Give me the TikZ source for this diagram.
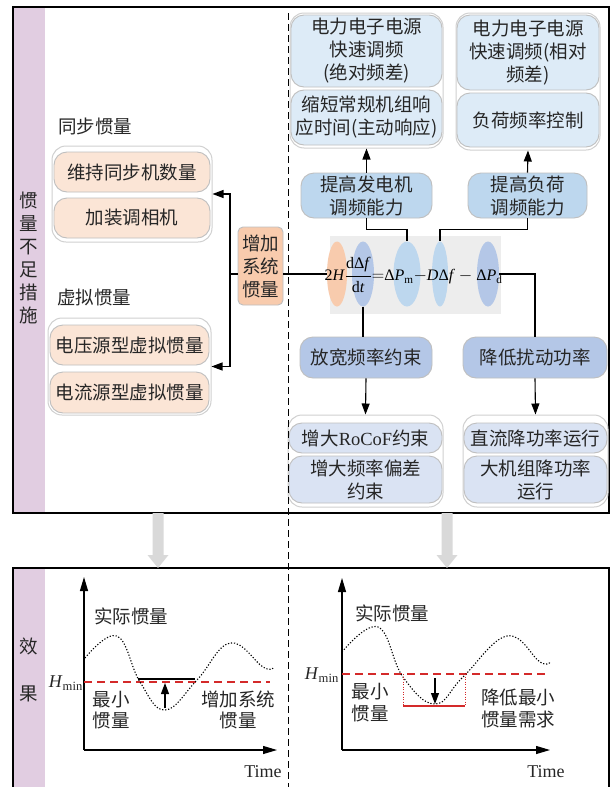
\documentclass[tikz,border=0pt]{standalone}
\usepackage{fontspec}
\usepackage{amsmath}
\setmainfont{Liberation Serif}
\newfontfamily\cn{Noto Sans CJK SC}
\usetikzlibrary{shapes.geometric,arrows.meta}
\definecolor{peachL}{HTML}{FBE5D6}
\definecolor{peachD}{HTML}{F8CBAD}
\definecolor{blueL}{HTML}{DDEBF7}
\definecolor{blueM}{HTML}{BDD7EE}
\definecolor{violet}{HTML}{B4C7E7}
\definecolor{lav}{HTML}{DAE3F3}
\definecolor{eqbg}{HTML}{EDEDED}
\definecolor{pinkstrip}{HTML}{E1CDE1}
\definecolor{boxgray}{HTML}{BFBFBF}
\definecolor{grpgray}{HTML}{D0D0D0}
\definecolor{arrgray}{HTML}{D9D9D9}
\definecolor{hred}{HTML}{D42A2A}
\definecolor{txt}{HTML}{262626}
\begin{document}
\begin{tikzpicture}[x=1pt,y=-1pt,
 cnf/.style={font=\cn\fontsize{18.5}{23}\selectfont},
 bx/.style={cnf, draw=boxgray, line width=0.9pt, rounded corners=13pt, inner sep=0pt, align=center, text=txt},
 grp/.style={draw=grpgray, line width=1pt, rounded corners=14pt, fill=white, inner sep=0pt},
 ell/.style={ellipse, inner sep=0pt, draw=none},
 arr/.style={-{Triangle[length=11pt,width=8pt]}, line width=1.1pt},
 con/.style={line width=1.1pt},
 lbl/.style={cnf, align=center, inner sep=0pt, text=txt},
 lat/.style={font=\fontsize{18}{20}\selectfont, inner sep=1pt, text=txt},
 curve/.style={line width=1.1pt, dash pattern=on 1.2pt off 1.8pt},
 axis/.style={-{Triangle[length=14pt,width=8pt]}, line width=1.1pt},
]
\useasboundingbox (0,0) rectangle (611,787);
\fill[white] (0,0) rectangle (611,787);
% frames
\fill[pinkstrip] (13,7) rectangle (45,513);
\draw[line width=1.2pt] (13,7) rectangle (609,513);
\fill[pinkstrip] (13,568) rectangle (45,787);
\draw[line width=1.2pt] (13,787) -- (13,568) -- (609,568) -- (609,787);
\node[lbl, font=\cn\fontsize{18.5}{23}\selectfont] (lab1) at (29,258) {惯\\量\\不\\足\\措\\施};
\node[lbl, font=\cn\fontsize{18.5}{47}\selectfont] (lab2) at (29,670) {效\\果};
% gray arrows
\fill[arrgray] (152.5,513) -- (163.5,513) -- (163.5,555) -- (168.5,555) -- (158,568) -- (147.5,555) -- (152.5,555) -- cycle;
\fill[arrgray] (441.5,513) -- (452.5,513) -- (452.5,555) -- (457.5,555) -- (447,568) -- (436.5,555) -- (441.5,555) -- cycle;
% left side
\node[lbl] (tsync) at (95,126) {同步惯量};
\node[grp, minimum width=160pt, minimum height=96pt] (g1) at (132,194) {};
\node[bx, fill=peachL, minimum width=156pt, minimum height=40pt] (b11) at (132,172) {维持同步机数量};
\node[bx, fill=peachL, minimum width=156pt, minimum height=40pt] (b12) at (132,218) {加装调相机};
\node[lbl] (tvirt) at (94,297) {虚拟惯量};
\node[grp, minimum width=163pt, minimum height=97pt] (g2) at (129.5,366.5) {};
\node[bx, fill=peachL, minimum width=159pt, minimum height=40pt] (b21) at (129.5,345) {电压源型虚拟惯量};
\node[bx, fill=peachL, minimum width=159pt, minimum height=41pt] (b22) at (129.5,392.5) {电流源型虚拟惯量};
\node[bx, fill=peachD, rounded corners=5pt, minimum width=45pt, minimum height=78pt] (inc) at (260.5,266) {增加\\系统\\惯量};
% right top
\node[grp, minimum width=153pt, minimum height=135pt] (G1) at (366.5,80.5) {};
\node[bx, fill=blueL, minimum width=151pt, minimum height=72pt] (r11) at (366.5,51) {电力电子电源\\快速调频\\(绝对频差)};
\node[bx, fill=blueL, minimum width=151pt, minimum height=55pt] (r12) at (366.5,117.5) {缩短常规机组响\\应时间(主动响应)};
\node[grp, minimum width=144pt, minimum height=137pt] (G2) at (528,81.5) {};
\node[bx, fill=blueL, minimum width=142pt, minimum height=75pt] (r21) at (528,52.5) {电力电子电源\\快速调频(相对\\频差)};
\node[bx, fill=blueL, minimum width=142pt, minimum height=54pt] (r22) at (528,120) {负荷频率控制};
\node[bx, fill=blueM, minimum width=131pt, minimum height=45pt] (gen) at (366.5,195.5) {提高发电机\\调频能力};
\node[bx, fill=blueM, minimum width=119pt, minimum height=45pt] (load) at (527.5,195.5) {提高负荷\\调频能力};
% equation
\fill[eqbg] (330,236) rectangle (501,314);
\node[ell, fill=peachD, minimum width=20pt, minimum height=65pt] (e1) at (337,274) {};
\node[ell, fill=violet, minimum width=22pt, minimum height=65pt] (e2) at (363,274) {};
\node[ell, fill=blueM, minimum width=27pt, minimum height=65pt] (e3) at (407,274) {};
\node[ell, fill=blueM, minimum width=16pt, minimum height=65pt] (e4) at (440,274) {};
\node[ell, fill=violet, minimum width=22pt, minimum height=65pt] (e5) at (488,274) {};
\node[inner sep=0pt, font=\fontsize{16}{19}\selectfont] (eq) at (413.5,275) {$\text{2\textit{H}}\dfrac{\text{dΔ\textit{f}}}{\text{d\textit{t}}}{=}\text{Δ\textit{P}}_{\text{m}}{-}\text{\textit{D}Δ\textit{f}}-\text{Δ\textit{P}}_{\text{d}}$};
% right lower
\node[bx, fill=violet, minimum width=132pt, minimum height=41pt] (relax) at (366,357.5) {放宽频率约束};
\node[bx, fill=violet, minimum width=144pt, minimum height=41pt] (reduce) at (535,357.5) {降低扰动功率};
\node[grp, minimum width=155pt, minimum height=92pt] (G3) at (365.5,461) {};
\node[bx, fill=lav, minimum width=153pt, minimum height=30pt] (r31) at (365.5,438) {增大{\rmfamily RoCoF}约束};
\node[bx, fill=lav, minimum width=153pt, minimum height=47pt] (r32) at (365.5,479.5) {增大频率偏差\\约束};
\node[grp, minimum width=145pt, minimum height=92pt] (G4) at (535.5,461) {};
\node[bx, fill=lav, minimum width=143pt, minimum height=30pt] (r41) at (535.5,438) {直流降功率运行};
\node[bx, fill=lav, minimum width=143pt, minimum height=47pt] (r42) at (535.5,479.5) {大机组降功率\\运行};
% connectors
\coordinate (bus) at (230,274);
\draw[con] (inc.west |- bus) -- (bus);
\draw[arr] (bus) |- (g1.east);
\draw[arr] (bus) |- (g2.east);
\draw[con] (inc.east |- bus) -- (e1.west);
\draw[arr] (gen.north) -- (G1.south);
\draw[arr] (load.north) -- (G2.south);
\draw[con] (gen.south) -- ++(0,11) -| (e3.north);
\draw[con] (load.south) -- ++(0,11) -| (e4.north);
\draw[con] (e2.south) -- (e2.south |- relax.north);
\draw[con] (e5.east) -| (reduce.north);
\draw[arr] (relax.south) -- (G3.north);
\draw[arr] (reduce.south) -- (G4.north);
% left chart
\coordinate (o1) at (84,750);
\coordinate (yt1) at (84,577);
\coordinate (xt1) at (277,750);
\draw[axis] (o1) -- (yt1);
\draw[axis] (o1) -- (xt1);
\draw[hred, line width=1.2pt, dash pattern=on 8pt off 5pt] (84,682) -- (270,682);
\draw[curve] plot[smooth, tension=0.7] coordinates {(85,658) (117,636) (140,682) (165,710) (197,680) (230,643) (263,667) (273,668)};
\draw[line width=1.2pt] (138,679) -- (195,679);
\coordinate (a1s) at (165,708);
\coordinate (a1e) at (165,683);
\draw[arr] (a1s) -- (a1e);
\node[lat, anchor=east] (hm1) at (84,683) {\textit{H}\textsubscript{min}};
\node[lat] (time1) at (263,772) {Time};
\node[lbl] (act1) at (131,616) {实际惯量};
\node[lbl, font=\cn\fontsize{18.5}{21}\selectfont] (min1) at (111,710) {最小\\惯量};
\node[lbl, font=\cn\fontsize{18.5}{21}\selectfont] (add1) at (238,710) {增加系统\\惯量};
% right chart
\coordinate (o2) at (342,750);
\coordinate (yt2) at (342,578);
\coordinate (xt2) at (550,750);
\draw[axis] (o2) -- (yt2);
\draw[axis] (o2) -- (xt2);
\draw[hred, line width=1.2pt, dash pattern=on 8pt off 5pt] (342,674) -- (545,674);
\draw[curve] plot[smooth, tension=0.7] coordinates {(342,652) (378,627) (403,677) (435,704) (463,677) (507,636) (540,662) (550,662)};
\draw[hred, line width=1pt, dash pattern=on 1pt off 1.5pt] (403,674) -- (403,706);
\draw[hred, line width=1pt, dash pattern=on 1pt off 1.5pt] (465,674) -- (465,706);
\draw[hred, line width=1.2pt] (403,706) -- (465,706);
\coordinate (a2s) at (435,678);
\coordinate (a2e) at (435,704);
\draw[arr] (a2s) -- (a2e);
\node[lat, anchor=east] (hm2) at (340,675) {\textit{H}\textsubscript{min}};
\node[lat] (time2) at (546,772) {Time};
\node[lbl] (act2) at (392,613) {实际惯量};
\node[lbl, font=\cn\fontsize{18.5}{22}\selectfont] (min2) at (370,703) {最小\\惯量};
\node[lbl, font=\cn\fontsize{18.5}{22}\selectfont] (low2) at (518,708) {降低最小\\惯量需求};
% dashed divider
\draw[line width=1pt, dash pattern=on 7pt off 4pt] (288,13) -- (288,787);
\end{tikzpicture}
\end{document}
